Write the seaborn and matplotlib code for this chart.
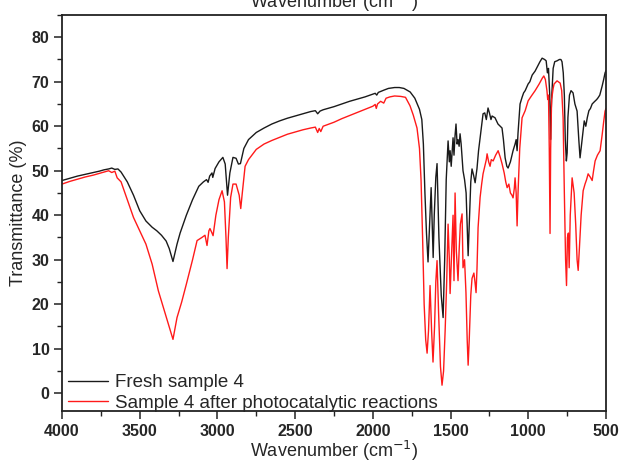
import matplotlib
matplotlib.use("Agg")
import matplotlib.pyplot as plt
import numpy as np
import pandas as pd
import seaborn as sns
from matplotlib.ticker import MultipleLocator

# FTIR spectra: wavenumber (cm-1) and transmittance (%)
fresh_wn = [4000, 3950, 3900, 3850, 3800, 3760, 3730, 3700, 3680, 3660, 3640, 3620,
            3580, 3540, 3500, 3460, 3420, 3390, 3360, 3330, 3310, 3286, 3260, 3240,
            3200, 3160, 3120, 3090, 3070, 3060, 3050, 3035, 3030, 3015, 2990, 2965,
            2950, 2935, 2920, 2900, 2880, 2865, 2852, 2830, 2800, 2750, 2700, 2650,
            2600, 2550, 2500, 2450, 2400, 2370, 2355, 2340, 2320, 2250, 2200, 2150,
            2100, 2050, 2000, 1985, 1975, 1965, 1930, 1900, 1860, 1830, 1800, 1760,
            1730, 1700, 1685, 1675, 1665, 1655, 1645, 1635, 1625, 1618, 1612, 1605,
            1595, 1587, 1575, 1560, 1548, 1538, 1528, 1516, 1508, 1503, 1496, 1484,
            1478, 1471, 1465, 1458, 1452, 1445, 1439, 1432, 1420, 1410, 1400, 1393,
            1387, 1380, 1370, 1362, 1352, 1342, 1330, 1320, 1310, 1300, 1291, 1280,
            1270, 1259, 1250, 1240, 1233, 1214, 1195, 1169, 1160, 1149, 1138, 1130,
            1115, 1098, 1085, 1078, 1072, 1066, 1053, 1040, 1030, 1020, 1001, 990,
            975, 956, 940, 925, 911, 895, 885, 877, 870, 862, 857, 852, 848, 840,
            830, 815, 800, 790, 783, 775, 768, 762, 755, 750, 745, 735, 725, 712,
            700, 686, 675, 667, 660, 650, 640, 630, 620, 610, 600, 589, 575, 560,
            551, 540, 525, 515, 506, 500]
fresh_t = [47.8, 48.3, 48.8, 49.2, 49.6, 49.9, 50.2, 50.4, 50.6, 50.3, 50.4, 49.7,
           47.5, 44.5, 41.0, 38.7, 37.3, 36.5, 35.5, 34.2, 32.5, 29.6, 33.5, 36.0,
           40.0, 43.5, 46.5, 47.5, 48.0, 47.4, 48.8, 49.5, 48.5, 50.5, 52.0, 53.0,
           51.5, 44.5, 49.5, 53.0, 52.8, 51.5, 51.6, 55.0, 57.0, 58.6, 59.6, 60.5,
           61.2, 61.8, 62.3, 62.8, 63.3, 63.5, 62.8, 63.4, 63.7, 64.4, 65.0, 65.6,
           66.1, 66.6, 67.2, 67.4, 67.0, 67.6, 68.1, 68.5, 68.7, 68.7, 68.5, 67.7,
           66.3, 63.8, 61.5, 56.0, 45.0, 36.0, 29.5, 38.0, 46.2, 38.0, 30.5, 40.0,
           48.5, 51.6, 35.0, 22.0, 17.0, 30.0, 48.0, 56.7, 52.0, 54.5, 51.0, 57.4,
           53.5, 58.0, 60.5, 56.0, 57.0, 55.5, 58.3, 56.0, 50.0, 48.0, 45.0, 37.0,
           30.9, 38.0, 47.5, 50.4, 49.0, 47.3, 50.5, 54.5, 57.4, 60.5, 62.8, 63.0,
           61.5, 64.1, 63.0, 61.5, 62.3, 61.9, 60.5, 59.6, 57.0, 52.9, 51.0, 50.6,
           52.0, 54.5, 56.0, 57.0, 54.5, 58.5, 65.0, 66.5, 67.5, 68.0, 69.5, 70.0,
           71.5, 72.4, 73.5, 74.5, 75.3, 75.0, 74.7, 72.0, 73.0, 67.0, 57.0, 64.0,
           67.5, 73.0, 74.5, 74.7, 75.0, 75.0, 74.5, 72.0, 67.0, 57.0, 52.2, 54.0,
           62.0, 67.0, 68.0, 67.5, 65.0, 63.4, 57.0, 52.9, 55.0, 58.0, 61.2, 60.0,
           62.0, 63.5, 64.0, 65.0, 65.5, 66.0, 66.4, 67.0, 69.0, 70.5, 72.0, 72.5]

used_wn = [4000, 3950, 3900, 3850, 3800, 3760, 3730, 3700, 3680, 3660, 3645, 3620,
           3580, 3540, 3500, 3460, 3420, 3380, 3350, 3320, 3286, 3260, 3230, 3200,
           3160, 3131, 3100, 3080, 3067, 3055, 3048, 3035, 3028, 3010, 2990, 2970,
           2955, 2945, 2938, 2930, 2915, 2900, 2880, 2860, 2850, 2840, 2822, 2800,
           2750, 2700, 2650, 2600, 2550, 2500, 2450, 2400, 2370, 2355, 2345, 2335,
           2320, 2250, 2200, 2150, 2100, 2050, 2000, 1985, 1978, 1970, 1950, 1930,
           1915, 1890, 1860, 1820, 1790, 1761, 1740, 1716, 1700, 1690, 1680, 1670,
           1660, 1651, 1642, 1632, 1622, 1613, 1603, 1595, 1587, 1577, 1565, 1555,
           1545, 1535, 1525, 1516, 1508, 1503, 1495, 1484, 1478, 1471, 1463, 1452,
           1445, 1437, 1426, 1420, 1410, 1401, 1393, 1387, 1380, 1370, 1362, 1350,
           1343, 1336, 1330, 1323, 1310, 1300, 1291, 1280, 1270, 1265, 1255, 1246,
           1238, 1226, 1210, 1194, 1180, 1169, 1155, 1145, 1136, 1125, 1115, 1105,
           1098, 1090, 1085, 1078, 1072, 1066, 1055, 1040, 1020, 1001, 980, 956,
           930, 910, 900, 890, 880, 875, 870, 865, 860, 856, 850, 840, 834, 815,
           795, 785, 776, 768, 760, 754, 748, 742, 737, 730, 718, 705, 695, 686,
           679, 672, 660, 647, 635, 625, 615, 600, 589, 580, 570, 555, 538, 525,
           515, 506, 500]
used_t = [47.0, 47.6, 48.1, 48.6, 49.0, 49.4, 49.7, 50.0, 49.6, 49.9, 48.4, 47.5,
          43.5, 39.5, 36.5, 33.5, 29.0, 23.0, 19.5, 16.0, 12.1, 17.0, 20.5, 24.5,
          30.0, 34.3, 35.0, 35.5, 33.2, 36.5, 37.0, 36.0, 35.4, 40.0, 43.5, 45.5,
          43.0, 35.0, 28.0, 35.0, 44.0, 47.0, 47.0, 44.5, 41.5, 45.0, 51.0, 52.5,
          54.8, 56.0, 56.8, 57.5, 58.2, 58.7, 59.2, 59.6, 59.8, 58.6, 59.5, 58.8,
          60.0, 60.9, 61.7, 62.4, 63.1, 63.8, 64.5, 64.9, 64.0, 65.0, 65.6, 65.2,
          66.3, 66.6, 66.8, 66.7, 66.5, 64.6, 62.5, 59.6, 55.0, 48.0, 35.0, 20.0,
          12.0, 9.0, 14.0, 24.2, 14.0, 7.0, 15.0, 25.0, 29.8, 18.0, 6.0, 1.8,
          5.0, 14.0, 25.0, 38.0, 30.0, 22.4, 30.0, 40.0, 25.3, 45.0, 32.0, 25.3,
          32.0, 38.0, 40.3, 28.2, 30.0, 22.6, 12.0, 6.3, 12.0, 22.0, 25.8, 27.0,
          25.0, 22.6, 28.0, 37.2, 44.0, 47.0, 49.3, 51.0, 52.5, 53.8, 52.0, 51.0,
          52.5, 52.2, 53.5, 54.5, 53.0, 51.6, 49.5, 47.5, 46.2, 47.0, 45.0, 44.5,
          43.9, 46.0, 48.4, 45.0, 37.6, 45.0, 55.0, 61.9, 63.5, 65.7, 66.8, 68.0,
          69.5, 70.8, 71.3, 70.5, 68.0, 66.0, 67.0, 55.0, 35.9, 55.0, 66.0, 68.5,
          69.5, 70.2, 69.7, 68.0, 61.9, 45.0, 30.0, 24.2, 35.0, 36.0, 28.2, 40.0,
          48.4, 45.0, 38.0, 30.0, 27.6, 32.0, 40.0, 45.5, 47.0, 48.0, 49.3, 48.5,
          47.8, 50.0, 52.2, 53.5, 54.5, 58.0, 61.0, 63.4, 64.0]

labels = ["Fresh sample 4", "Sample 4 after photocatalytic reactions"]
colors = ["#1a1a1a", "#ff1a1a"]

df = pd.concat([
    pd.DataFrame({"wavenumber": fresh_wn, "transmittance": fresh_t, "sample": labels[0]}),
    pd.DataFrame({"wavenumber": used_wn, "transmittance": used_t, "sample": labels[1]}),
], ignore_index=True)

sns.set_style("ticks")
plt.rcParams["font.family"] = ["Liberation Sans", "DejaVu Sans"]

fig = plt.figure(figsize=(6.19, 4.69), dpi=100)
ax = fig.add_axes([62 / 619, 1 - 411 / 469, 544 / 619, 396 / 469])

sns.lineplot(data=df, x="wavenumber", y="transmittance", hue="sample",
             palette=dict(zip(labels, colors)), sort=False, estimator=None,
             linewidth=1.0, ax=ax)

ax.set_xlim(4000, 500)
ax.set_ylim(-4, 85)
ax.xaxis.set_major_locator(MultipleLocator(500))
ax.xaxis.set_minor_locator(MultipleLocator(250))
ax.yaxis.set_major_locator(MultipleLocator(10))
ax.yaxis.set_minor_locator(MultipleLocator(5))
ax.set_yticks(range(0, 81, 10))
ax.tick_params(axis="both", which="major", direction="out", length=6, width=1.1,
               labelsize=11.5, color="#222222", pad=3)
ax.tick_params(axis="both", which="minor", direction="out", length=3.5, width=1.0,
               color="#222222")
for lbl in ax.get_xticklabels() + ax.get_yticklabels():
    lbl.set_fontweight("bold")
for sp in ax.spines.values():
    sp.set_visible(True)
    sp.set_linewidth(1.3)
    sp.set_color("#222222")

ax.set_xlabel("Wavenumber (cm$^{-1}$)", fontsize=13, labelpad=0)
ax.set_ylabel("Transmittance (%)", fontsize=13, labelpad=3)

# label of the upper axis, mostly above the figure edge
fig.text(334 / 619, 1 - 8 / 469, "Wavenumber (cm$^{-1}$)", ha="center",
         va="baseline", fontsize=13)

handles, _ = ax.get_legend_handles_labels()
ax.legend(handles=handles, labels=labels, loc="lower left", frameon=False,
          fontsize=13.5, handlelength=2.15, handletextpad=0.37, labelspacing=0.2,
          borderpad=0.0, borderaxespad=0.0, bbox_to_anchor=(6 / 544, -1 / 396))

fig.savefig("out.png", dpi=100)
